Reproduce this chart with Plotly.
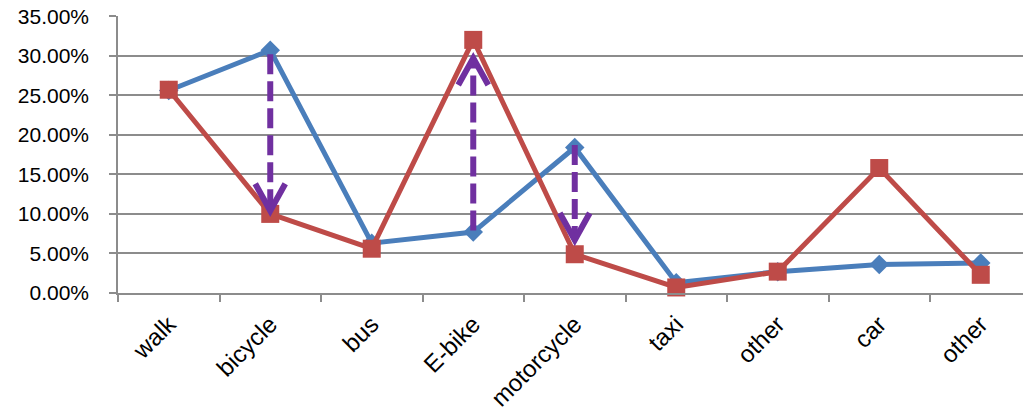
import plotly.graph_objects as go

categories = ["walk", "bicycle", "bus", "E-bike", "motorcycle", "taxi", "other", "car", "other"]
series_blue = [25.6, 30.7, 6.3, 7.7, 18.4, 1.3, 2.7, 3.6, 3.8]
series_red = [25.7, 10.0, 5.6, 32.0, 4.9, 0.7, 2.7, 15.8, 2.3]

# change arrows: category index, start value, tip value (percent)
arrow_idx = [1, 3, 4]
arrow_start = [30.2, 7.9, 18.7]
arrow_tip = [10.4, 29.7, 6.7]

y_ticks = [0, 5, 10, 15, 20, 25, 30, 35]

BLUE = "#4A7EBB"
RED = "#BE4B48"
PURPLE = "#7030A0"
GRID = "#8C8C8C"
FONT = "Liberation Sans"

x = list(range(len(categories)))

fig = go.Figure()
fig.add_trace(go.Scatter(
    x=x, y=[v / 100 for v in series_blue], mode="lines+markers",
    line=dict(color=BLUE, width=5),
    marker=dict(symbol="diamond", size=15, color=BLUE),
    hoverinfo="skip", cliponaxis=False))
fig.add_trace(go.Scatter(
    x=x, y=[v / 100 for v in series_red], mode="lines+markers",
    line=dict(color=RED, width=5),
    marker=dict(symbol="square", size=18, color=RED),
    hoverinfo="skip", cliponaxis=False))

for i, s, t in zip(arrow_idx, arrow_start, arrow_tip):
    fig.add_shape(type="line", xref="x", yref="y", x0=i, x1=i,
                  y0=s / 100, y1=t / 100, layer="above",
                  line=dict(color=PURPLE, width=6, dash="20px,7px"))
    down = t < s
    dy = 27 if down else -27
    fig.add_shape(type="path", xref="x", yref="y",
                  xsizemode="pixel", ysizemode="pixel",
                  xanchor=i, yanchor=t / 100,
                  path=f"M-15,{dy} L0,0 L15,{dy}", layer="above",
                  line=dict(color=PURPLE, width=6))

W, H = 1023, 415
L = 118
fig.update_layout(
    width=W, height=H,
    margin=dict(l=L, r=0, t=16, b=122),
    paper_bgcolor="white", plot_bgcolor="white",
    showlegend=False,
    font=dict(family=FONT, color="black"),
    xaxis=dict(
        range=[-0.5, -0.5 + (W - L) / 101.5],
        tickmode="array", tickvals=x, ticktext=categories,
        tickangle=-45, ticks="", showgrid=False, zeroline=False,
        showline=True, linecolor=GRID, linewidth=1.5,
        tickfont=dict(size=24, family=FONT, color="black"),
        ticklabelstandoff=6, automargin=False, ticklabeloverflow="allow",
        minor=dict(tickmode="linear", tick0=0.5, dtick=1, ticks="outside",
                   ticklen=7, tickcolor=GRID, tickwidth=1.5, showgrid=False),
    ),
    yaxis=dict(
        range=[0, 0.3502], tickmode="array",
        tickvals=[v / 100 for v in y_ticks], tickformat=".2%",
        showgrid=True, gridcolor=GRID, gridwidth=1.5, zeroline=False,
        showline=True, linecolor=GRID, linewidth=1.5,
        ticks="outside", ticklen=7, tickcolor=GRID, tickwidth=1.5,
        tickfont=dict(size=21, family=FONT, color="black"),
        ticklabelstandoff=16, automargin=False, ticklabeloverflow="allow",
    ),
)

fig.write_html("out.html",
               config={"displayModeBar": False},
               post_script="document.body.style.margin='0px';")
